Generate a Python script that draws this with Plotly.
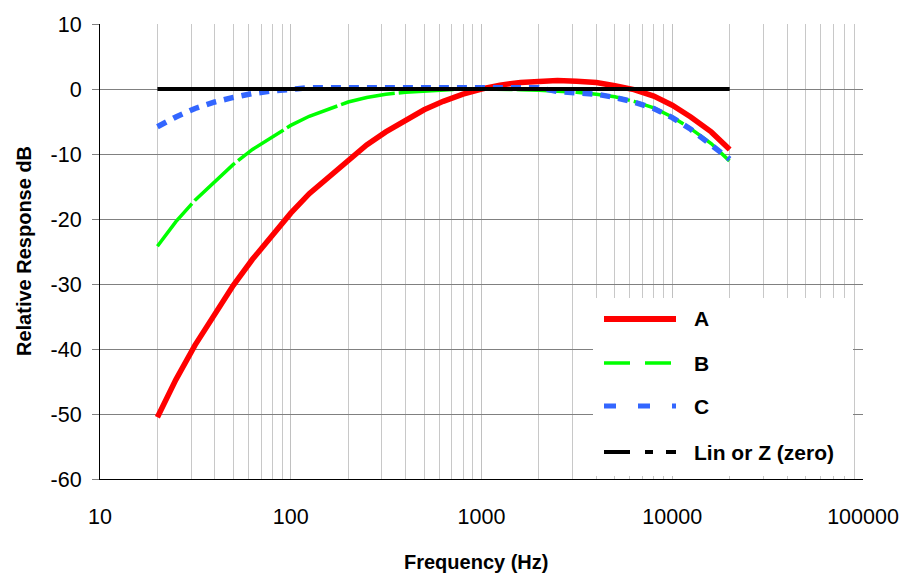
import plotly.graph_objects as go

# Third-octave frequencies (Hz)
freq = [20, 25, 31.5, 40, 50, 63, 80, 100, 125, 160, 200, 250, 315, 400, 500, 630,
        800, 1000, 1250, 1600, 2000, 2500, 3150, 4000, 5000, 6300, 8000, 10000,
        12500, 16000, 20000]

a_weight = [-50.5, -44.7, -39.4, -34.6, -30.2, -26.2, -22.5, -19.1, -16.1, -13.4,
            -10.9, -8.6, -6.6, -4.8, -3.2, -1.9, -0.8, 0.0, 0.6, 1.0, 1.2, 1.3,
            1.2, 1.0, 0.5, -0.1, -1.1, -2.5, -4.3, -6.6, -9.3]

b_weight = [-24.2, -20.4, -17.1, -14.2, -11.6, -9.3, -7.4, -5.6, -4.2, -3.0,
            -2.0, -1.3, -0.8, -0.5, -0.3, -0.1, 0.0, 0.0, 0.0, -0.1, -0.2, -0.3,
            -0.5, -0.8, -1.2, -1.9, -2.9, -4.3, -6.1, -8.4, -11.1]

c_weight = [-5.8, -4.3, -3.0, -2.0, -1.3, -0.7, -0.3, 0.0, 0.2, 0.2,
            0.2, 0.2, 0.2, 0.2, 0.2, 0.2, 0.2, 0.2, 0.2, 0.2, 0.2, -0.4,
            -0.5, -0.8, -1.3, -2.0, -3.0, -4.4, -6.2, -8.5, -10.8]

z_weight = [0.0] * len(freq)

x_tick_vals = [10, 100, 1000, 10000, 100000]
x_tick_text = ["10", "100", "1000", "10000", "100000"]
y_tick_vals = [10, 0, -10, -20, -30, -40, -50, -60]
y_tick_text = ["10", "0", "-10", "-20", "-30", "-40", "-50", "-60"]

series_names = ["A", "B", "C", "Lin or Z (zero)"]

FONT = "Liberation Sans, Arial, sans-serif"

fig = go.Figure()
fig.add_trace(go.Scatter(x=freq, y=a_weight, mode="lines", name=series_names[0],
                         line=dict(color="#FF0000", width=5.5)))
fig.add_trace(go.Scatter(x=freq, y=b_weight, mode="lines", name=series_names[1],
                         line=dict(color="#00FF00", width=3.5, dash="55px,4px")))
fig.add_trace(go.Scatter(x=freq, y=c_weight, mode="lines", name=series_names[2],
                         line=dict(color="#3366FF", width=5.5, dash="10px,8px")))
fig.add_trace(go.Scatter(x=freq, y=z_weight, mode="lines", name=series_names[3],
                         line=dict(color="#000000", width=4)))

L, R, T, B = 100, 42, 24, 95
W, H = 905, 574
pw, ph = W - L - R, H - T - B


def px(xp):
    return (xp - L) / pw


def py(yp):
    return (H - B - yp) / ph


# manual legend (long line samples as in the original)
shapes = [dict(type="rect", xref="paper", yref="paper", x0=px(593), x1=px(853),
               y0=py(298), y1=py(476), fillcolor="white", line=dict(width=0),
               layer="above")]
styles = [dict(color="#FF0000", width=6),
          dict(color="#00FF00", width=3.5, dash="26px,15px"),
          dict(color="#3366FF", width=5, dash="12px,22px"),
          dict(color="#000000", width=4, dash="26px,15px,8px,13px")]
ycent = [319, 363, 406, 452]
annotations = []
for name, st, yc in zip(series_names, styles, ycent):
    shapes.append(dict(type="line", xref="paper", yref="paper", x0=px(604), x1=px(676),
                       y0=py(yc), y1=py(yc), line=st, layer="above"))
    annotations.append(dict(xref="paper", yref="paper", x=px(692), y=py(yc),
                            xanchor="left", yanchor="middle", showarrow=False,
                            text="<b>%s</b>" % name,
                            font=dict(family=FONT, size=21, color="black")))

# axis titles
annotations.append(dict(xref="paper", yref="paper", x=px(476), y=py(562),
                        xanchor="center", yanchor="middle", showarrow=False,
                        text="<b>Frequency (Hz)</b>",
                        font=dict(family=FONT, size=20, color="black")))
annotations.append(dict(xref="paper", yref="paper", x=px(24), y=py(251),
                        xanchor="center", yanchor="middle", showarrow=False,
                        textangle=-90, text="<b>Relative Response dB</b>",
                        font=dict(family=FONT, size=20, color="black")))

fig.update_layout(
    width=W, height=H,
    margin=dict(l=L, r=R, t=T, b=B),
    paper_bgcolor="white", plot_bgcolor="white",
    showlegend=False,
    font=dict(family=FONT, color="black"),
    shapes=shapes,
    annotations=annotations,
)

fig.update_xaxes(
    type="log", range=[1, 5], automargin=False,
    tickvals=x_tick_vals, ticktext=x_tick_text,
    tickfont=dict(size=21.5, family=FONT),
    ticks="", ticklabelstandoff=18,
    showgrid=True, gridcolor="#C0C0C0", gridwidth=1,
    minor=dict(dtick="D1", showgrid=True, gridcolor="#C8C8C8", gridwidth=1, ticks=""),
    showline=True, linecolor="black", linewidth=1,
    zeroline=False,
)
fig.update_yaxes(
    range=[-60, 10], automargin=False,
    tickvals=y_tick_vals, ticktext=y_tick_text,
    tickfont=dict(size=21.5, family=FONT),
    ticks="outside", ticklen=7, tickcolor="#808080", ticklabelstandoff=6,
    showgrid=True, gridcolor="#808080", gridwidth=1,
    showline=True, linecolor="black", linewidth=1,
    zeroline=False,
)

fig.write_html("out.html")
